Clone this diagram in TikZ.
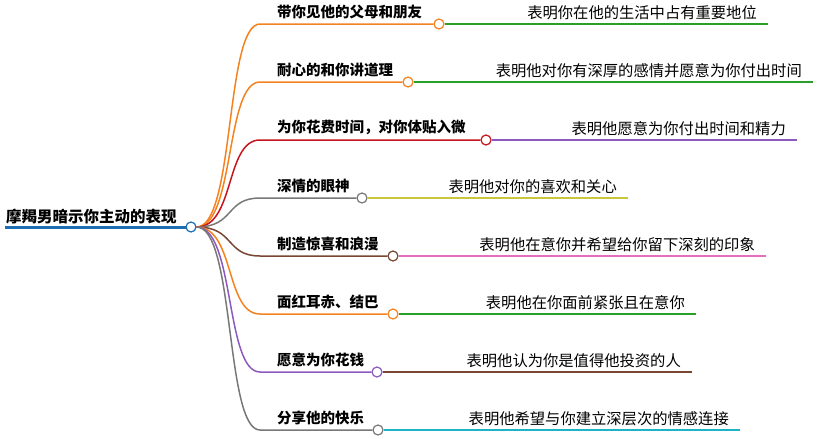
\documentclass[tikz,border=0pt]{standalone}
\usepackage{fontspec}
\setmainfont{Noto Sans CJK SC}
\begin{document}
\begin{tikzpicture}[x=1pt,y=-1pt,
  kid/.style={anchor=south west,inner sep=1pt,font=\fontsize{14.5}{14.5}\selectfont\bfseries},
  leaf/.style={anchor=south east,inner sep=1pt,font=\fontsize{15.3}{15.3}\selectfont},
  dot/.style={circle,draw=#1,fill=white,line width=1.2pt,minimum size=10pt,inner sep=0pt}]
\useasboundingbox (0,0) rectangle (820,439);
\definecolor{cor}{RGB}{245,130,32}
\definecolor{cred}{RGB}{200,20,30}
\definecolor{cgray}{RGB}{120,120,120}
\definecolor{cbrown}{RGB}{120,70,50}
\definecolor{cpurple}{RGB}{140,90,190}
\definecolor{cgreen}{RGB}{40,160,40}
\definecolor{colive}{RGB}{200,200,60}
\definecolor{cpink}{RGB}{230,110,190}
\definecolor{ccyan}{RGB}{30,180,200}
\definecolor{cblue}{RGB}{30,110,180}
\node[anchor=south west,inner sep=1pt,font=\fontsize{15.5}{15.5}\selectfont\bfseries] (root) at (5,225) {摩羯男暗示你主动的表现};
\draw[cblue,line width=3pt] (5,227) -- (187,227);
\node[dot=cblue] (rc) at (191,227) {};
\foreach \y/\t/\cx/\c/\r/\e/\lc [count=\i] in {
 24/带你见他的父母和朋友/439/cor/表明你在他的生活中占有重要地位/768/cgreen,
 82/耐心的和你讲道理/408/cor/表明他对你有深厚的感情并愿意为你付出时间/813/cgreen,
 140/为你花费时间，对你体贴入微/486/cred/表明他愿意为你付出时间和精力/797/cpurple,
 198/深情的眼神/362/cgray/表明他对你的喜欢和关心/628/colive,
 256/制造惊喜和浪漫/393/cbrown/表明他在意你并希望给你留下深刻的印象/766/cpink,
 314/面红耳赤、结巴/393/cor/表明他在你面前紧张且在意你/696/cgreen,
 372/愿意为你花钱/377/cpurple/表明他认为你是值得他投资的人/692/cbrown,
 430/分享他的快乐/378/cgray/表明他希望与你建立深层次的情感连接/740/ccyan}{
  \node[kid] (k\i) at (276,\y-4) {\t};
  \node[dot=\c] (c\i) at (\cx,\y) {};
  \coordinate (s\i) at (260,\y);
  \draw[\c,line width=1.5pt] (rc.east) .. controls (235,227) and (225,\y) .. (s\i) -- (c\i.west);
  \coordinate (e\i) at (\e,\y);
  \draw[\lc,line width=1.2pt] (c\i.east) -- (e\i);
  \node[leaf] (l\i) at (\e-10,\y-3) {\r};
}
\end{tikzpicture}
\end{document}
